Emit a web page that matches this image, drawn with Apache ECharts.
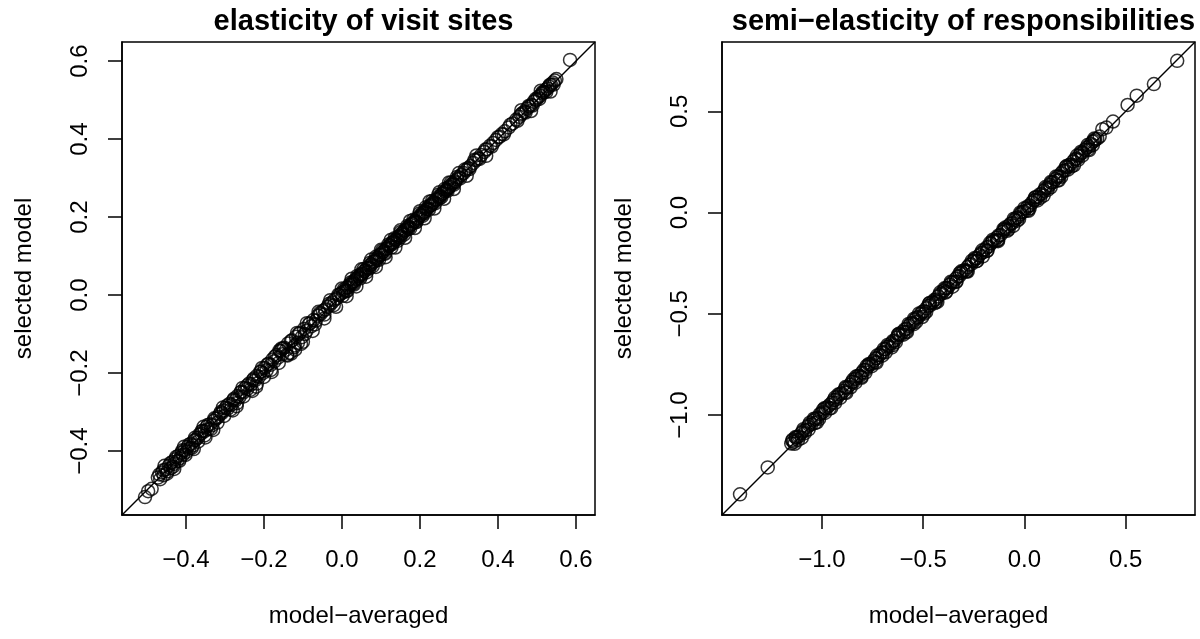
<!DOCTYPE html>
<html>
<head>
<meta charset="utf-8">
<script src="https://cdn.jsdelivr.net/npm/echarts@6/dist/echarts.min.js"></script>
<style>
html,body{margin:0;padding:0;background:#fff;}
#chart{width:1200px;height:639px;}
</style>
</head>
<body>
<div id="chart"></div>
<script>
// ---- data ----
const titles = ['elasticity of visit sites', 'semi\u2212elasticity of responsibilities'];
const xAxisTitle = 'model\u2212averaged';
const yAxisTitle = 'selected model';

const leftRange = [-0.564, 0.649];
const rightRange = [-1.494, 0.843];
const leftTicks = [-0.4, -0.2, 0.0, 0.2, 0.4, 0.6];
const rightTicks = [-1.0, -0.5, 0.0, 0.5];

const visitSites = [
[-0.505,-0.518],[-0.497,-0.503],[-0.488,-0.497],[-0.472,-0.468],[-0.466,-0.472],[-0.461,-0.455],[-0.457,-0.462],[-0.452,-0.447],
[-0.447,-0.452],[-0.443,-0.437],[-0.439,-0.444],[-0.435,-0.428],[-0.431,-0.433],[-0.427,-0.421],[-0.423,-0.426],[-0.419,-0.412],
[-0.415,-0.418],[-0.411,-0.404],[-0.407,-0.409],[-0.403,-0.398],[-0.399,-0.402],[-0.395,-0.389],[-0.391,-0.393],[-0.387,-0.381],
[-0.383,-0.386],[-0.379,-0.373],[-0.375,-0.371],[-0.37,-0.366],[-0.366,-0.358],[-0.361,-0.355],[-0.357,-0.348],[-0.352,-0.349],
[-0.347,-0.338],[-0.343,-0.344],[-0.338,-0.331],[-0.333,-0.334],[-0.328,-0.322],[-0.323,-0.317],[-0.318,-0.313],[-0.313,-0.305],
[-0.308,-0.303],[-0.303,-0.296],[-0.298,-0.289],[-0.293,-0.291],[-0.288,-0.279],[-0.283,-0.281],[-0.278,-0.269],[-0.273,-0.27],
[-0.268,-0.259],[-0.263,-0.262],[-0.258,-0.248],[-0.253,-0.25],[-0.248,-0.238],[-0.243,-0.241],[-0.238,-0.227],[-0.233,-0.229],
[-0.228,-0.218],[-0.223,-0.219],[-0.218,-0.207],[-0.213,-0.21],[-0.208,-0.197],[-0.203,-0.2],[-0.198,-0.187],[-0.193,-0.193],
[-0.188,-0.176],[-0.183,-0.179],[-0.178,-0.165],[-0.173,-0.17],[-0.168,-0.154],[-0.163,-0.16],[-0.158,-0.144],[-0.153,-0.152],
[-0.148,-0.135],[-0.143,-0.14],[-0.138,-0.124],[-0.133,-0.148],[-0.128,-0.116],[-0.123,-0.134],[-0.118,-0.107],[-0.113,-0.122],
[-0.108,-0.097],[-0.103,-0.108],[-0.097,-0.087],[-0.091,-0.092],[-0.085,-0.075],[-0.079,-0.08],[-0.073,-0.064],[-0.067,-0.066],
[-0.061,-0.053],[-0.055,-0.049],[-0.049,-0.041],[-0.043,-0.037],[-0.037,-0.03],[-0.031,-0.026],[-0.025,-0.019],[-0.019,-0.012],
[-0.013,-0.008],[-0.007,0.0],[-0.002,0.004],[0.003,0.008],[0.008,0.012],[0.012,0.019],[0.016,0.02],[0.02,0.026],[0.024,0.028],
[0.028,0.034],[0.032,0.036],[0.036,0.041],[0.04,0.044],[0.044,0.048],[0.048,0.053],[0.052,0.055],[0.056,0.061],[0.06,0.063],
[0.064,0.069],[0.068,0.071],[0.072,0.077],[0.076,0.079],[0.08,0.085],[0.084,0.087],[0.088,0.094],[0.092,0.096],[0.096,0.102],
[0.1,0.104],[0.104,0.11],[0.108,0.112],[0.112,0.118],[0.116,0.12],[0.12,0.126],[0.124,0.128],[0.128,0.134],[0.132,0.136],
[0.136,0.142],[0.14,0.143],[0.144,0.149],[0.148,0.152],[0.152,0.157],[0.156,0.159],[0.16,0.165],[0.164,0.167],[0.168,0.173],
[0.172,0.175],[0.176,0.18],[0.18,0.183],[0.184,0.188],[0.188,0.19],[0.192,0.196],[0.196,0.198],[0.2,0.204],[0.204,0.206],
[0.208,0.212],[0.212,0.214],[0.216,0.22],[0.22,0.222],[0.224,0.228],[0.228,0.23],[0.232,0.236],[0.236,0.238],[0.24,0.244],
[0.244,0.246],[0.248,0.252],[0.252,0.254],[0.256,0.259],[0.26,0.262],[0.264,0.267],[0.268,0.27],[0.272,0.275],[0.276,0.278],
[0.28,0.283],[0.285,0.287],[0.29,0.292],[0.295,0.297],[0.3,0.302],[0.306,0.308],[0.312,0.313],[0.318,0.32],[0.324,0.326],
[0.33,0.331],[0.337,0.339],[0.344,0.346],[0.35,0.351],[0.357,0.359],[0.365,0.367],[0.372,0.374],[0.38,0.383],[0.388,0.39],
[0.395,0.398],[0.404,0.406],[0.41,0.413],[0.418,0.42],[0.428,0.43],[0.438,0.44],[0.447,0.45],[0.455,0.457],[0.462,0.466],
[0.468,0.47],[0.474,0.478],[0.48,0.483],[0.486,0.488],[0.492,0.496],[0.498,0.5],[0.503,0.507],[0.508,0.511],[0.513,0.517],
[0.518,0.52],[0.522,0.526],[0.527,0.53],[0.531,0.535],[0.536,0.54],[0.541,0.545],[0.546,0.55],[0.55,0.554],[0.585,0.603],
[0.01,0.009],[0.03,0.03],[0.05,0.05],[0.07,0.068],[0.09,0.09],[0.11,0.108],[0.13,0.131],[0.15,0.148],[0.17,0.17],[0.19,0.188],
[0.21,0.209],[0.23,0.232],[0.25,0.248],[0.27,0.271],[0.29,0.289],
[-0.14,-0.155],[-0.12,-0.14],[-0.27,-0.285],[-0.22,-0.235],[-0.1,-0.12],[-0.16,-0.142],[-0.35,-0.365],
[-0.468,-0.46],[-0.458,-0.449],[-0.449,-0.458],[-0.44,-0.431],[-0.433,-0.44],[-0.425,-0.415],[-0.417,-0.425],[-0.409,-0.398],
[-0.401,-0.41],[-0.393,-0.384],[-0.385,-0.392],[-0.377,-0.366],[-0.369,-0.376],[-0.36,-0.349],[-0.352,-0.36],[-0.344,-0.333],
[-0.336,-0.343],[-0.327,-0.316],[-0.319,-0.327],[-0.311,-0.3],[-0.302,-0.31],[-0.294,-0.283],[-0.286,-0.294],[-0.277,-0.266],
[-0.269,-0.277],[-0.26,-0.249],[-0.252,-0.26],[-0.243,-0.232],[-0.235,-0.243],[-0.226,-0.214],[-0.218,-0.227],[-0.209,-0.196],
[-0.2,-0.21],[-0.191,-0.178],[-0.182,-0.192],[-0.172,-0.158],[-0.162,-0.174],[-0.151,-0.137],[-0.141,-0.153],[-0.131,-0.118],
[-0.121,-0.129],[-0.111,-0.1],[-0.095,-0.1],[-0.082,-0.072],[-0.069,-0.075],[-0.057,-0.046],[-0.045,-0.05],[-0.033,-0.022],
[-0.021,-0.026],[-0.009,0.001],[0.002,-0.002],
[0.005,0.015],[0.014,0.011],[0.022,0.032],[0.031,0.027],[0.039,0.049],[0.047,0.043],[0.055,0.066],[0.063,0.058],[0.071,0.082],
[0.079,0.074],[0.087,0.098],[0.095,0.09],[0.103,0.114],[0.111,0.106],[0.119,0.13],[0.127,0.122],[0.135,0.146],[0.143,0.139],
[0.151,0.162],[0.159,0.155],[0.167,0.177],[0.175,0.171],[0.183,0.193],[0.191,0.187],[0.199,0.209],[0.207,0.203],[0.215,0.225],
[0.223,0.219],[0.231,0.241],[0.239,0.235],[0.247,0.257],[0.255,0.251],[0.263,0.272],[0.271,0.267],[0.279,0.288],[0.287,0.283],
[0.295,0.303],[0.303,0.299],[0.315,0.322],[0.327,0.323],[0.34,0.347],[0.353,0.349],[0.368,0.373],[0.384,0.381],[0.4,0.405],
[0.415,0.412],[0.432,0.437],[0.45,0.447],[0.459,0.463],[0.471,0.468],[0.479,0.485],[0.489,0.486],[0.497,0.503],[0.506,0.503],
[0.515,0.521],[0.524,0.521],[0.533,0.539],[0.543,0.54],
[-0.455,-0.438],[-0.43,-0.446],[-0.405,-0.389],[-0.38,-0.395],[-0.355,-0.338],[-0.33,-0.346],[-0.305,-0.288],[-0.28,-0.296],
[-0.255,-0.238],[-0.23,-0.246],[-0.205,-0.187],[-0.18,-0.197],[-0.155,-0.137],[-0.13,-0.15],[-0.115,-0.097],[-0.105,-0.125],
[-0.09,-0.072],[-0.075,-0.092],[-0.06,-0.043],[-0.045,-0.06],[-0.03,-0.013],[-0.015,-0.03],[0.0,0.017],[0.012,-0.003],
[0.025,0.042],[0.037,0.022],[0.05,0.066],[0.062,0.047],[0.075,0.091],[0.087,0.072],[0.1,0.116],[0.112,0.097],[0.125,0.141],
[0.137,0.122],[0.15,0.166],[0.162,0.147],[0.175,0.19],[0.187,0.172],[0.2,0.215],[0.212,0.197],[0.225,0.24],[0.237,0.222],
[0.25,0.264],[0.262,0.247],[0.275,0.289],[0.287,0.272],[0.3,0.313],[0.32,0.306],[0.345,0.358],[0.37,0.357],[0.46,0.474],
[0.485,0.472],[0.51,0.524],[0.535,0.522]
];

const responsibilities = [
[-1.405,-1.392],[-1.268,-1.259],[-1.152,-1.141],[-1.147,-1.128],[-1.139,-1.133],[-1.128,-1.112],[-1.121,-1.108],[-1.113,-1.106],
[-1.102,-1.089],[-1.094,-1.079],[-1.083,-1.077],[-1.071,-1.058],[-1.064,-1.049],[-1.052,-1.046],[-1.041,-1.027],[-1.033,-1.019],
[-1.022,-1.014],[-1.011,-0.996],[-1.003,-0.991],[-0.992,-0.983],[-0.981,-0.966],[-0.972,-0.961],[-0.963,-0.951],[-0.951,-0.94],
[-0.942,-0.926],[-0.933,-0.925],[-0.921,-0.909],[-0.912,-0.897],[-0.903,-0.893],[-0.891,-0.88],[-0.882,-0.866],[-0.873,-0.864],
[-0.861,-0.85],[-0.852,-0.836],[-0.843,-0.835],[-0.832,-0.82],[-0.823,-0.807],[-0.814,-0.806],[-0.803,-0.791],[-0.794,-0.778],
[-0.785,-0.777],[-0.774,-0.762],[-0.765,-0.749],[-0.756,-0.748],[-0.745,-0.733],[-0.736,-0.72],[-0.727,-0.719],[-0.716,-0.704],
[-0.707,-0.692],[-0.698,-0.69],[-0.687,-0.675],[-0.678,-0.663],[-0.669,-0.661],[-0.658,-0.646],[-0.649,-0.634],[-0.64,-0.632],
[-0.629,-0.617],[-0.62,-0.605],[-0.611,-0.603],[-0.6,-0.588],[-0.591,-0.577],[-0.582,-0.574],[-0.571,-0.559],[-0.562,-0.548],
[-0.553,-0.545],[-0.542,-0.53],[-0.533,-0.519],[-0.524,-0.516],[-0.513,-0.501],[-0.504,-0.49],[-0.495,-0.487],[-0.484,-0.472],
[-0.475,-0.461],[-0.466,-0.458],[-0.455,-0.443],[-0.446,-0.432],[-0.437,-0.429],[-0.426,-0.414],[-0.417,-0.403],[-0.408,-0.4],
[-0.397,-0.385],[-0.388,-0.374],[-0.379,-0.371],[-0.368,-0.356],[-0.359,-0.345],[-0.35,-0.342],[-0.339,-0.327],[-0.33,-0.316],
[-0.321,-0.313],[-0.31,-0.298],[-0.301,-0.287],[-0.292,-0.284],[-0.281,-0.269],[-0.272,-0.258],[-0.263,-0.255],[-0.252,-0.24],
[-0.243,-0.229],[-0.234,-0.226],[-0.223,-0.211],[-0.214,-0.2],[-0.205,-0.197],[-0.194,-0.182],[-0.185,-0.171],[-0.176,-0.168],
[-0.165,-0.153],[-0.156,-0.142],[-0.147,-0.139],[-0.136,-0.124],[-0.127,-0.113],[-0.118,-0.11],[-0.107,-0.095],[-0.098,-0.084],
[-0.089,-0.081],[-0.078,-0.066],[-0.069,-0.055],[-0.06,-0.052],[-0.049,-0.037],[-0.04,-0.026],[-0.031,-0.023],[-0.02,-0.008],
[-0.011,0.003],[-0.002,0.006],[0.009,0.021],[0.018,0.032],[0.027,0.035],[0.038,0.05],[0.047,0.061],[0.056,0.064],[0.067,0.079],
[0.076,0.09],[0.085,0.093],[0.096,0.108],[0.105,0.119],[0.114,0.122],[0.125,0.137],[0.134,0.148],[0.143,0.151],[0.154,0.166],
[0.163,0.177],[0.172,0.18],[0.183,0.195],[0.192,0.206],[0.201,0.209],[0.212,0.224],[0.221,0.235],[0.23,0.238],[0.241,0.253],
[0.25,0.264],[0.259,0.267],[0.27,0.282],[0.279,0.293],[0.288,0.296],[0.299,0.311],[0.308,0.322],[0.317,0.325],[0.328,0.34],
[0.337,0.351],[0.346,0.354],[0.385,0.412],[0.405,0.42],[0.438,0.45],[0.51,0.532],[0.555,0.578],[0.64,0.635],[0.755,0.75],
[-1.135,-1.142],[-1.085,-1.09],[-1.035,-1.04],[-0.985,-0.99],[-0.935,-0.94],[-0.885,-0.888],[-0.835,-0.84],[-0.785,-0.79],
[-0.735,-0.738],[-0.685,-0.69],[-0.635,-0.64],[-0.585,-0.588],[-0.535,-0.54],[-0.485,-0.49],[-0.435,-0.438],[-0.385,-0.39],
[-0.335,-0.34],[-0.285,-0.288],[-0.235,-0.24],[-0.185,-0.19],[-0.135,-0.138],[-0.085,-0.09],[-0.035,-0.04],[0.015,0.012],
[0.065,0.06],[0.115,0.112],[0.165,0.16],[0.215,0.212],[0.265,0.26],[0.315,0.312],[0.36,0.365],[0.372,0.376],
[-1.145,-1.122],[-1.118,-1.123],[-1.092,-1.07],[-1.066,-1.071],[-1.04,-1.018],[-1.014,-1.019],[-0.988,-0.966],[-0.962,-0.967],
[-0.936,-0.914],[-0.91,-0.915],[-0.884,-0.862],[-0.858,-0.863],[-0.832,-0.81],[-0.806,-0.811],[-0.78,-0.758],[-0.754,-0.759],
[-0.728,-0.706],[-0.702,-0.707],[-0.676,-0.654],[-0.65,-0.655],[-0.624,-0.602],[-0.598,-0.603],[-0.572,-0.55],[-0.546,-0.551],
[-0.52,-0.498],[-0.494,-0.499],[-0.468,-0.446],[-0.442,-0.447],[-0.416,-0.394],[-0.39,-0.395],[-0.364,-0.342],[-0.338,-0.343],
[-0.312,-0.29],[-0.286,-0.291],[-0.26,-0.238],[-0.234,-0.239],[-0.208,-0.186],[-0.182,-0.187],[-0.156,-0.134],[-0.13,-0.135],
[-0.104,-0.082],[-0.078,-0.083],[-0.052,-0.03],[-0.026,-0.031],[0.0,0.022],[0.026,0.021],[0.052,0.074],[0.078,0.073],
[0.104,0.126],[0.13,0.125],[0.156,0.178],[0.182,0.177],[0.208,0.23],[0.234,0.229],[0.26,0.282],[0.286,0.281],[0.312,0.334],
[0.338,0.333],[0.35,0.362],
[-1.13,-1.108],[-1.1,-1.113],[-1.06,-1.038],[-1.025,-1.036],[-0.995,-0.974],[-0.955,-0.966],[-0.92,-0.899],[-0.88,-0.891],
[-0.845,-0.824],[-0.805,-0.816],[-0.77,-0.749],[-0.73,-0.741],[-0.695,-0.674],[-0.655,-0.666],[-0.62,-0.599],[-0.58,-0.591],
[-0.545,-0.524],[-0.505,-0.516],[-0.47,-0.449],[-0.43,-0.441],[-0.395,-0.374],[-0.355,-0.366],[-0.32,-0.299],[-0.28,-0.291],
[-0.245,-0.224],[-0.205,-0.216],[-0.17,-0.149],[-0.13,-0.141],[-0.095,-0.074],[-0.055,-0.066],[-0.02,0.001],[0.02,0.009],
[0.055,0.076],[0.095,0.084],[0.13,0.151],[0.17,0.159],[0.205,0.226],[0.245,0.234],[0.28,0.301],[0.32,0.309],[0.345,0.366]
];

// ---- chart ----
const FONT = '"Liberation Sans", Arial, Helvetica, sans-serif';
const LW = 1.5;
function fmt(v) { return (v < 0 ? '\u2212' : '') + Math.abs(v).toFixed(1); }

const boxes = [
  {left: 122, top: 42, width: 473, height: 473},
  {left: 722, top: 42, width: 473, height: 473}
];
const ranges = [leftRange, rightRange];
const ticks = [leftTicks, rightTicks];
const datasets = [visitSites, responsibilities];

function xAxisDef(i) {
  return {
    gridIndex: i, type: 'value', min: ranges[i][0], max: ranges[i][1],
    name: xAxisTitle, nameLocation: 'middle', nameGap: 89,
    nameTextStyle: {fontFamily: FONT, fontSize: 24, color: '#000'},
    axisLine: {show: true, onZero: false, lineStyle: {color: '#000', width: LW}},
    axisTick: {show: true, inside: false, length: 14, customValues: ticks[i], lineStyle: {color: '#000', width: LW}},
    axisLabel: {show: true, customValues: ticks[i], formatter: fmt, margin: 33,
      fontFamily: FONT, fontSize: 24, color: '#000'},
    splitLine: {show: false}
  };
}
function yAxisDef(i) {
  return {
    gridIndex: i, type: 'value', min: ranges[i][0], max: ranges[i][1],
    name: yAxisTitle, nameLocation: 'middle', nameGap: 86, nameRotate: 90,
    nameTextStyle: {fontFamily: FONT, fontSize: 24, color: '#000'},
    axisLine: {show: true, onZero: false, lineStyle: {color: '#000', width: LW}},
    axisTick: {show: true, inside: false, length: 14, customValues: ticks[i], lineStyle: {color: '#000', width: LW}},
    axisLabel: {show: true, customValues: ticks[i], formatter: fmt, margin: 30, rotate: 90,
      fontFamily: FONT, fontSize: 24, color: '#000'},
    splitLine: {show: false}
  };
}

const series = [];
for (let i = 0; i < 2; i++) {
  series.push({
    type: 'scatter', xAxisIndex: i, yAxisIndex: i, data: datasets[i],
    symbol: 'circle', symbolSize: 13,
    itemStyle: {color: 'rgba(0,0,0,0)', borderColor: '#000', borderWidth: 1.5},
    emphasis: {disabled: true}, silent: true
  });
  series.push({
    type: 'line', xAxisIndex: i, yAxisIndex: i,
    data: [[ranges[i][0], ranges[i][0]], [ranges[i][1], ranges[i][1]]],
    symbol: 'none', lineStyle: {color: '#000', width: LW}, silent: true, clip: true
  });
}

const chart = echarts.init(document.getElementById('chart'), null, {renderer: 'canvas'});
chart.setOption({
  animation: false,
  backgroundColor: '#fff',
  title: [0, 1].map(i => ({
    text: titles[i], left: boxes[i].left + boxes[i].width / 2, top: 2, textAlign: 'center',
    textStyle: {fontFamily: FONT, fontSize: 29, fontWeight: 'bold', color: '#000'}
  })),
  grid: boxes.map(b => Object.assign({show: true, borderColor: '#000', borderWidth: LW, backgroundColor: 'rgba(0,0,0,0)', containLabel: false}, b)),
  xAxis: [xAxisDef(0), xAxisDef(1)],
  yAxis: [yAxisDef(0), yAxisDef(1)],
  series: series
});
</script>
</body>
</html>
